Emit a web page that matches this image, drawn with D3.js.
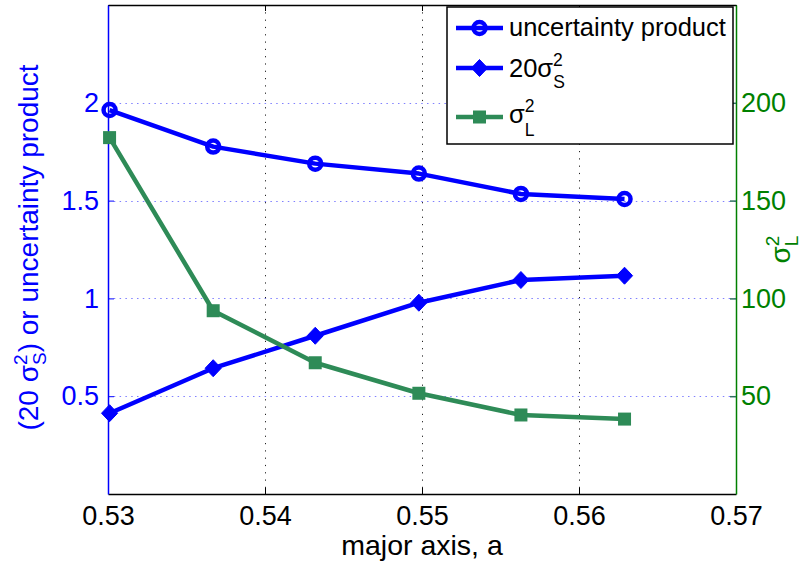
<!DOCTYPE html>
<html>
<head>
<meta charset="utf-8">
<script src="https://cdn.jsdelivr.net/npm/d3@7/dist/d3.min.js"></script>
<style>
  html, body { margin: 0; padding: 0; background: #fff; }
  svg { display: block; font-family: "Liberation Sans", Arial, Helvetica, sans-serif; }
</style>
</head>
<body>
<svg id="chart" width="808" height="563"></svg>
<script>
// Major-axis sweep and the three quantities plotted against it
const majorAxis = [0.5301, 0.5367, 0.5432, 0.5498, 0.5563, 0.5629];
const uncertaintyProduct = [1.963, 1.776, 1.689, 1.638, 1.534, 1.508];
const sigmaS2x20 = [0.413, 0.643, 0.809, 0.978, 1.094, 1.116];
const sigmaL2 = [182.2, 93.7, 67.1, 51.5, 40.4, 38.3];

const xTicks = [0.53, 0.54, 0.55, 0.56, 0.57];
const leftTicks = [0.5, 1, 1.5, 2];
const rightTicks = [50, 100, 150, 200];

const BLUE = "#0000ff";
const SEA = "#2e8b57";
const GREEN = "#008000";

const svg = d3.select("#chart");
const L = 108, R = 736, T = 5, B = 494;

const x = d3.scaleLinear().domain([0.53, 0.57]).range([L, R]);
const yL = d3.scaleLinear().domain([0, 2.5]).range([B, T]);
const yR = d3.scaleLinear().domain([0, 250]).range([B, T]);

// grid
const grid = svg.append("g");
grid.selectAll("line.h").data(leftTicks).join("line")
  .attr("x1", L).attr("x2", R)
  .attr("y1", d => Math.round(yL(d)) + 0.5).attr("y2", d => Math.round(yL(d)) + 0.5)
  .attr("stroke", "#8080ff").attr("stroke-width", 1.2)
  .attr("stroke-dasharray", "1.5,4.3");
grid.selectAll("line.v").data(xTicks.slice(1, -1)).join("line")
  .attr("y1", T).attr("y2", B)
  .attr("x1", d => Math.round(x(d)) + 0.5).attr("x2", d => Math.round(x(d)) + 0.5)
  .attr("stroke", "#222").attr("stroke-width", 1)
  .attr("stroke-dasharray", "1.2,6.1");

// axes
const fmt = d3.format("~g");
const axBottom = svg.append("g").attr("transform", `translate(0,${B})`)
  .call(d3.axisBottom(x).tickValues(xTicks).tickFormat(d3.format(".2f"))
    .tickSizeInner(-6).tickSizeOuter(0).tickPadding(12));
axBottom.select(".domain").attr("stroke", "#000").attr("stroke-width", 1.5);
axBottom.selectAll(".tick line").attr("stroke", "#000");
axBottom.selectAll("text").attr("font-size", 27).attr("fill", "#000")
  .attr("font-family", "Liberation Sans, Arial, sans-serif");

const axTop = svg.append("g").attr("transform", `translate(0,${T})`)
  .call(d3.axisTop(x).tickValues(xTicks).tickFormat("")
    .tickSizeInner(-6).tickSizeOuter(0));
axTop.select(".domain").attr("stroke", "#000").attr("stroke-width", 1.5);
axTop.selectAll(".tick line").attr("stroke", "#000");

const axLeft = svg.append("g").attr("transform", `translate(${L},0)`)
  .call(d3.axisLeft(yL).tickValues(leftTicks).tickFormat(fmt)
    .tickSizeInner(-6).tickSizeOuter(0).tickPadding(9));
axLeft.select(".domain").attr("stroke", BLUE).attr("stroke-width", 1.5);
axLeft.selectAll(".tick line").attr("stroke", BLUE);
axLeft.selectAll("text").attr("font-size", 27).attr("fill", BLUE)
  .attr("font-family", "Liberation Sans, Arial, sans-serif");

const axRight = svg.append("g").attr("transform", `translate(${R},0)`)
  .call(d3.axisRight(yR).tickValues(rightTicks).tickFormat(fmt)
    .tickSizeInner(-6).tickSizeOuter(0).tickPadding(5));
axRight.select(".domain").attr("stroke", GREEN).attr("stroke-width", 1.5);
axRight.selectAll(".tick line").attr("stroke", "#2f6f60").attr("stroke-width", 1.5);
axRight.selectAll("text").attr("font-size", 27).attr("fill", GREEN)
  .attr("font-family", "Liberation Sans, Arial, sans-serif");

// axis titles
svg.append("text").attr("x", (L + R) / 2).attr("y", 555)
  .attr("text-anchor", "middle").attr("font-size", 28.5).attr("fill", "#000")
  .text("major axis, a");

const yTitle = svg.append("text")
  .attr("transform", `translate(38,${(T + B) / 2 - 2}) rotate(-90)`)
  .attr("text-anchor", "middle").attr("font-size", 28).attr("fill", BLUE);
yTitle.append("tspan").text("(20 σ");
yTitle.append("tspan").attr("font-size", 19).attr("dy", -11).text("2");
yTitle.append("tspan").attr("font-size", 19).attr("dx", -10.6).attr("dy", 19).text("S");
yTitle.append("tspan").attr("dy", -8).text(") or uncertainty product");

const rTitle = svg.append("text")
  .attr("transform", `translate(790,${(T + B) / 2 + 14}) rotate(-90)`)
  .attr("text-anchor", "start").attr("font-size", 28).attr("fill", GREEN);
rTitle.append("tspan").text("σ");
rTitle.append("tspan").attr("font-size", 19).attr("dy", -11).text("2");
rTitle.append("tspan").attr("font-size", 19).attr("dx", -10.6).attr("dy", 19).text("L");

// series
const pts = vals => majorAxis.map((a, i) => [a, vals[i]]);
const lineL = d3.line().x(d => x(d[0])).y(d => yL(d[1]));
const lineR = d3.line().x(d => x(d[0])).y(d => yR(d[1]));
const diamond = s => `M0,${-s}L${s * 0.95},0L0,${s}L${-s * 0.95},0Z`;

const gU = svg.append("g");
gU.append("path").attr("d", lineL(pts(uncertaintyProduct)))
  .attr("fill", "none").attr("stroke", BLUE).attr("stroke-width", 4.5)
  .attr("stroke-linejoin", "round");
gU.selectAll("circle").data(pts(uncertaintyProduct)).join("circle")
  .attr("cx", d => x(d[0])).attr("cy", d => yL(d[1])).attr("r", 6)
  .attr("fill", "none").attr("stroke", BLUE).attr("stroke-width", 4.5);

const gS = svg.append("g");
gS.append("path").attr("d", lineL(pts(sigmaS2x20)))
  .attr("fill", "none").attr("stroke", BLUE).attr("stroke-width", 4.5)
  .attr("stroke-linejoin", "round");
gS.selectAll("path.m").data(pts(sigmaS2x20)).join("path").attr("class", "m")
  .attr("d", diamond(8.5))
  .attr("transform", d => `translate(${x(d[0])},${yL(d[1])})`)
  .attr("fill", BLUE).attr("stroke", BLUE).attr("stroke-width", 1);

const gL = svg.append("g");
gL.append("path").attr("d", lineR(pts(sigmaL2)))
  .attr("fill", "none").attr("stroke", SEA).attr("stroke-width", 4.5)
  .attr("stroke-linejoin", "round");
gL.selectAll("rect").data(pts(sigmaL2)).join("rect")
  .attr("x", d => x(d[0]) - 6.5).attr("y", d => yR(d[1]) - 6.5)
  .attr("width", 13).attr("height", 13).attr("fill", SEA);

// legend
const lg = svg.append("g");
lg.append("rect").attr("x", 447).attr("y", 7).attr("width", 286).attr("height", 137)
  .attr("fill", "#fff").attr("stroke", "#000").attr("stroke-width", 1.5);
const rows = [
  { y: 28, color: BLUE, mark: "circle" },
  { y: 68, color: BLUE, mark: "diamond" },
  { y: 117, color: SEA, mark: "square" }
];
rows.forEach(r => {
  lg.append("line").attr("x1", 456).attr("x2", 503).attr("y1", r.y).attr("y2", r.y)
    .attr("stroke", r.color).attr("stroke-width", 4.5);
  if (r.mark === "circle") {
    lg.append("circle").attr("cx", 479.5).attr("cy", r.y).attr("r", 6)
      .attr("fill", "none").attr("stroke", r.color).attr("stroke-width", 4.5);
  } else if (r.mark === "diamond") {
    lg.append("path").attr("d", diamond(8.5)).attr("transform", `translate(479.5,${r.y})`)
      .attr("fill", r.color).attr("stroke", r.color).attr("stroke-width", 1);
  } else {
    lg.append("rect").attr("x", 473).attr("y", r.y - 6.5).attr("width", 13).attr("height", 13)
      .attr("fill", r.color);
  }
});
lg.append("text").attr("x", 509).attr("y", 36).attr("font-size", 25.5).attr("fill", "#000")
  .text("uncertainty product");
const t2 = lg.append("text").attr("x", 509).attr("y", 77).attr("font-size", 25.5).attr("fill", "#000");
t2.append("tspan").text("20σ");
t2.append("tspan").attr("font-size", 17.5).attr("dy", -11).text("2");
t2.append("tspan").attr("font-size", 17.5).attr("dx", -9.7).attr("dy", 22).text("S");
const t3 = lg.append("text").attr("x", 509).attr("y", 123).attr("font-size", 25.5).attr("fill", "#000");
t3.append("tspan").text("σ");
t3.append("tspan").attr("font-size", 17.5).attr("dy", -11).text("2");
t3.append("tspan").attr("font-size", 17.5).attr("dx", -9.7).attr("dy", 24).text("L");
</script>
</body>
</html>
